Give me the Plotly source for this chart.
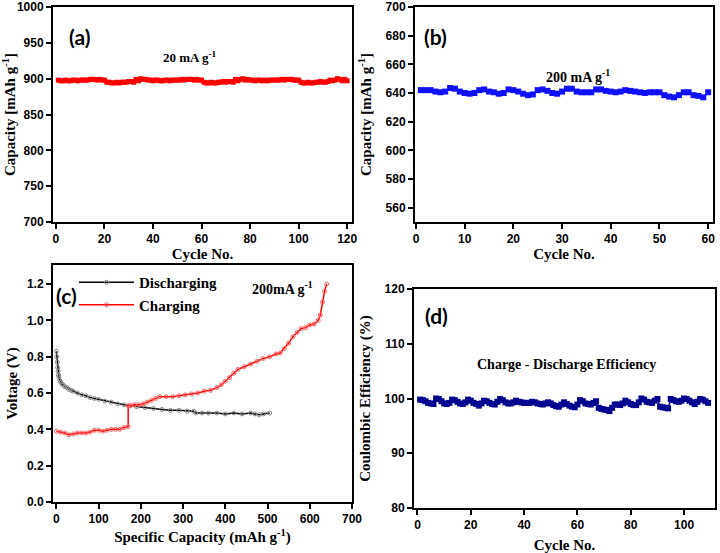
import plotly.graph_objects as go

# ---------------- data ----------------
cap_a = [898, 897, 897, 898, 897, 897, 898, 898, 897, 898, 898, 898, 898, 899, 899, 899, 898, 899, 898, 898,
         895, 895, 894, 894, 895, 894, 895, 895, 895, 896, 896, 895, 899, 897,
         900, 899, 899, 898, 898, 897, 898, 898, 897, 897, 898, 898, 897, 898, 898, 898, 898, 899, 898, 899, 899, 899, 898, 899, 898, 898,
         895, 894, 894, 895, 894, 894, 895, 895, 896, 895, 896, 896, 895, 899,
         897, 899, 900, 898, 899, 898, 898, 897, 898, 898, 897, 898, 897, 898, 898, 898, 898, 898, 899, 898, 899, 899, 899, 898, 898, 898,
         895, 894, 894, 895, 894, 894, 895, 895, 896, 895, 895, 896, 898, 897, 898, 900, 899, 897, 899, 897]
cycles_a = list(range(1, len(cap_a) + 1))

cap_b = [642, 642, 642, 641, 640.5, 641, 643.5, 643, 641, 640, 639.5, 640, 642, 642.5, 641, 640.5, 639.5, 640,
         642.5, 642, 641, 639.5, 638.5, 639, 642, 642.5, 641.5, 640, 639.5, 641, 643, 643, 641, 640.5, 640.5,
         640.5, 642.5, 642.5, 641.5, 641, 640.5, 641, 642, 641.5, 641, 640.5, 640, 640.5, 640.5, 640.5, 638.5,
         637.5, 637, 638.5, 640.5, 640.5, 638.5, 638, 637, 640.5]
cycles_b = list(range(1, len(cap_b) + 1))

dis_cap = [0, 1, 2, 3, 4, 5, 6, 8, 10, 13, 16, 20, 25, 30, 35, 40, 50, 60, 70, 80, 90, 100, 115, 130, 145, 160,
           175, 190, 210, 230, 250, 270, 290, 310, 325, 330, 345, 360, 380, 400, 420, 440, 460, 470, 480, 490, 505]
dis_v = [0.83, 0.80, 0.77, 0.74, 0.72, 0.70, 0.69, 0.67, 0.66, 0.65, 0.645, 0.635, 0.63, 0.62, 0.615, 0.61, 0.60,
         0.59, 0.585, 0.575, 0.57, 0.565, 0.555, 0.55, 0.54, 0.535, 0.53, 0.525, 0.52, 0.515, 0.51, 0.505, 0.505,
         0.50, 0.50, 0.49, 0.49, 0.49, 0.49, 0.485, 0.49, 0.485, 0.49, 0.485, 0.48, 0.485, 0.49]

chg_cap = [0, 10, 20, 30, 40, 50, 60, 70, 80, 90, 100, 110, 120, 130, 140, 150, 160, 170, 170, 175, 185, 195,
           205, 215, 225, 235, 245, 260, 275, 290, 305, 320, 335, 350, 365, 380, 390, 400, 410, 420, 430, 445,
           460, 475, 490, 505, 520, 530, 540, 550, 560, 570, 580, 590, 600, 610, 620, 625, 630, 635, 640]
chg_v = [0.39, 0.385, 0.38, 0.37, 0.375, 0.38, 0.38, 0.38, 0.385, 0.395, 0.395, 0.39, 0.395, 0.40, 0.40, 0.40,
         0.41, 0.415, 0.53, 0.53, 0.535, 0.535, 0.54, 0.55, 0.56, 0.57, 0.58, 0.58, 0.58, 0.585, 0.59, 0.595,
         0.60, 0.61, 0.615, 0.63, 0.645, 0.665, 0.685, 0.71, 0.73, 0.745, 0.76, 0.775, 0.79, 0.80, 0.815, 0.82,
         0.845, 0.875, 0.91, 0.935, 0.955, 0.96, 0.975, 0.98, 1.00, 1.03, 1.10, 1.16, 1.20]

eff_d = [99.8, 99.7, 99.5, 99.2, 99.1, 99.0,
         100.0, 99.9, 99.5, 99.1, 99.0, 99.2,
         99.8, 99.7, 99.4, 99.1, 99.0, 99.3,
         99.8, 99.6, 99.2, 99.0, 98.7, 99.1,
         99.6, 99.5, 99.2, 99.0, 98.9, 99.4,
         99.9, 99.7, 99.3, 99.1, 99.1, 99.3,
         99.6, 99.4, 99.3, 99.2, 99.2, 99.2,
         99.4, 99.3, 99.1, 99.0, 98.9, 99.1,
         99.3, 99.1, 98.8, 98.6, 98.5, 98.9,
         99.3, 99.0, 98.7, 98.5, 98.4, 98.9,
         99.7, 99.5, 99.1, 99.0, 98.9, 99.2,
         99.5, 98.3, 98.1, 98.0, 97.9, 97.7,
         98.3, 98.9, 98.9, 98.8, 99.1, 99.6,
         99.3, 99.0, 98.8, 98.8, 99.3, 100.0,
         99.8, 99.4, 99.3, 99.2, 99.6, 99.9,
         98.5, 98.4, 98.3, 98.2, 99.9, 99.7,
         99.5, 99.4, 99.6, 100.0, 99.9, 99.6,
         99.3, 99.0, 99.4, 99.9, 99.8, 99.5, 99.2]
cycles_d = list(range(1, len(eff_d) + 1))

# ---------------- figure ----------------
W, H = 720, 553
SANS = "Liberation Sans"
SERIF = "Liberation Serif"

def px(x):
    return x / W

def py(y):
    return 1 - y / H

fig = go.Figure()

fig.add_trace(go.Scatter(x=cycles_a, y=cap_a, mode="lines+markers", xaxis="x", yaxis="y",
                         line=dict(color="#ff0000", width=1.5),
                         marker=dict(symbol="square", size=5, color="#ff0000"), showlegend=False))
fig.add_trace(go.Scatter(x=cycles_b, y=cap_b, mode="lines+markers", xaxis="x2", yaxis="y2",
                         line=dict(color="#1010ff", width=1.5),
                         marker=dict(symbol="square", size=6, color="#1010ff"), showlegend=False))
fig.add_trace(go.Scatter(x=dis_cap, y=dis_v, mode="lines+markers", xaxis="x3", yaxis="y3", name="Discharging",
                         line=dict(color="#000000", width=1.5),
                         marker=dict(symbol="circle-open", size=4, color="#888888", line=dict(width=1))))
fig.add_trace(go.Scatter(x=chg_cap, y=chg_v, mode="lines+markers", xaxis="x3", yaxis="y3", name="Charging",
                         line=dict(color="#ff0000", width=1.5),
                         marker=dict(symbol="circle-open", size=4, color="#ff6060", line=dict(width=1))))
fig.add_trace(go.Scatter(x=cycles_d, y=eff_d, mode="lines+markers", xaxis="x4", yaxis="y4",
                         line=dict(color="#000090", width=1.5),
                         marker=dict(symbol="square", size=6, color="#000090"), showlegend=False))

tickfont = dict(family=SANS, size=12, color="black", weight="bold")
titlefont = dict(family=SERIF, size=15, color="black", weight="bold")

def axis(domain, rng, dtick, title="", tick0=0, fmt=None, standoff=6):
    d = dict(domain=domain, range=rng, dtick=dtick, tick0=tick0, showgrid=False, zeroline=False,
             showline=True, linecolor="black", linewidth=2, mirror=True,
             ticks="outside", ticklen=5, tickwidth=2, tickcolor="black",
             tickfont=tickfont, automargin=False,
             title=dict(text=title, font=titlefont, standoff=standoff))
    if fmt:
        d["tickformat"] = fmt
    return d

xa = [px(53), px(352)]
xb = [px(415), px(713)]
xc = [px(53), px(352)]
xd = [px(414), px(715)]
ya = [py(222), py(7)]
yc = [py(502), py(265)]
yd = [py(508), py(289)]

fig.update_layout(
    width=W, height=H, margin=dict(l=0, r=0, t=0, b=0),
    paper_bgcolor="white", plot_bgcolor="white",
    xaxis=dict(axis(xa, [-1.2, 122], 20, "Cycle No.", standoff=3), anchor="y"),
    yaxis=dict(axis(ya, [700, 1000], 50, "Capacity [mAh g<sup>-1</sup>]"), anchor="x"),
    xaxis2=dict(axis(xb, [-0.2, 61], 10, "Cycle No.", standoff=3), anchor="y2"),
    yaxis2=dict(axis(ya, [550, 700], 20, "Capacity [mAh g<sup>-1</sup>]", tick0=560, standoff=10), anchor="x2"),
    xaxis3=dict(axis(xc, [-8, 700], 100, "Specific Capacity (mAh g<sup>-1</sup>)"), anchor="y3"),
    yaxis3=dict(axis(yc, [0, 1.305], 0.2, "Voltage (V)", fmt=".1f"), anchor="x3"),
    xaxis4=dict(axis(xd, [-1.3, 111.6], 20, "Cycle No.", standoff=12), anchor="y4"),
    yaxis4=dict(axis(yd, [80, 120], 10, "Coulombic Efficiency (%)", standoff=10), anchor="x4"),
    legend=dict(x=px(74), y=py(266), xanchor="left", yanchor="top",
                font=dict(family=SERIF, size=15, color="black", weight="bold"),
                bgcolor="rgba(0,0,0,0)", tracegroupgap=0, itemwidth=55),
)

def note(x, y, text, size=13, family=SERIF):
    fig.add_annotation(x=px(x), y=py(y), xref="paper", yref="paper", text=text, showarrow=False,
                       font=dict(family=family, size=size, color="black", weight="bold"),
                       xanchor="center", yanchor="middle")

note(190, 57, "20 mA g<sup>-1</sup>")
note(578, 76, "200 mA g<sup>-1</sup>", size=14)
note(282, 288, "200mA g<sup>-1</sup>", size=14)
note(566, 364, "Charge - Discharge Efficiency", size=14)
note(79, 36, "(a)", size=21, family="Lato")
note(436, 36, "(b)", size=21, family="Lato")
note(66, 295, "(c)", size=21, family="Lato")
note(437, 315, "(d)", size=21, family="Lato")

fig.write_html("out.html", config={"displayModeBar": False},
               post_script="document.body.style.margin='0';document.body.style.overflow='hidden';")
